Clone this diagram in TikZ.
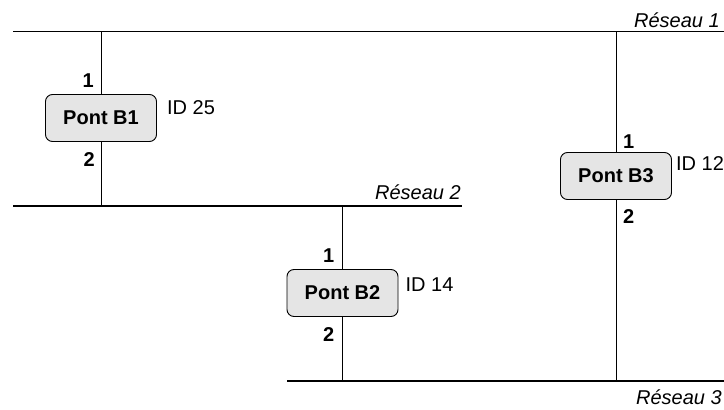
\documentclass[tikz,border=0pt]{standalone}
\usepackage{fontspec}
\setmainfont{Liberation Sans}
\usetikzlibrary{positioning}
\newcommand{\txt}{\fontsize{20}{24}\selectfont}

\begin{document}
\begin{tikzpicture}[x=1pt, y=-1pt,
    every node/.style = {inner sep=0pt, font=\txt},
    pont/.style       = {draw, line width=0.9pt, rounded corners=7pt,
                         fill=black!10, minimum width=111pt,
                         minimum height=47pt, font=\txt\bfseries},
    port/.style       = {font=\txt\bfseries},
    reseau/.style     = {line width=1.6pt},
    lien/.style       = {line width=1pt},
    nom/.style        = {font=\txt\itshape, anchor=base east}]
  \useasboundingbox (0,0) rectangle (724,410);
  \clip (0,0) rectangle (724,410);

  % reseaux
  \coordinate (r1w) at (13,31.5);  \coordinate (r1e) at (740,31.5);
  \coordinate (r2w) at (13,206);   \coordinate (r2e) at (462,206);
  \coordinate (r3w) at (287,381);  \coordinate (r3e) at (740,381);
  \draw[reseau] (r1w) -- (r1e);
  \draw[reseau] (r2w) -- (r2e);
  \draw[reseau] (r3w) -- (r3e);
  \node[nom] (n1) at (720,27)  {Réseau 1};
  \node[nom] (n2) at (461,199) {Réseau 2};
  \node[nom] (n3) at (722,404) {Réseau 3};

  % ponts
  \node[pont] (b1) at (101,118)   {Pont B1};
  \node[pont] (b2) at (342.5,293) {Pont B2};
  \node[pont] (b3) at (616,176)   {Pont B3};

  \draw[lien] (b1) -- (b1 |- r1w);
  \draw[lien] (b1) -- (b1 |- r2w);
  \draw[lien] (b2) -- (b2 |- r2w);
  \draw[lien] (b2) -- (b2 |- r3w);
  \draw[lien] (b3) -- (b3 |- r1w);
  \draw[lien] (b3) -- (b3 |- r3w);

  % ports
  \node[port, above left=6pt and 7pt of b1.north]  (b1p1) {1};
  \node[port, below left=10pt and 6pt of b1.south] (b1p2) {2};
  \node[port, above left=6pt and 8pt of b2.north]  (b2p1) {1};
  \node[port, below left=10pt and 8pt of b2.south] (b2p2) {2};
  \node[port, above right=3pt and 7pt of b3.north] (b3p1) {1};
  \node[port, below right=9pt and 7pt of b3.south] (b3p2) {2};

  % identifiants
  \node[below right=6pt and 10pt of b1.north east] (id1) {ID 25};
  \node[below right=8pt and 7pt of b2.north east]  (id2) {ID 14};
  \node[below right=4pt and 4pt of b3.north east]  (id3) {ID 12};
\end{tikzpicture}
\end{document}
